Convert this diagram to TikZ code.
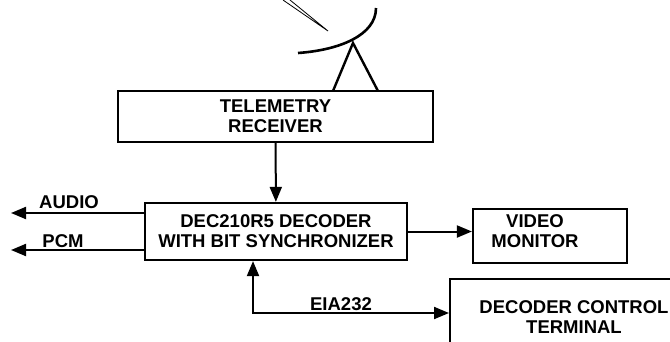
\documentclass[tikz,border=0pt]{standalone}
\usepackage{fontspec}
\setmainfont{Liberation Sans}
\usetikzlibrary{arrows.meta,positioning}

\begin{document}
\begin{tikzpicture}[
  x=1pt, y=-1pt,
  box/.style={draw, line width=2.2pt, align=center, inner sep=0pt},
  lbl/.style={font=\fontsize{18.5}{20}\selectfont\bfseries, align=center, inner sep=0pt},
  arr/.style={-{Triangle[length=15pt, width=12pt]}, line width=2pt},
  arrboth/.style={{Triangle[length=15pt, width=12pt]}-{Triangle[length=15pt, width=12pt]}, line width=2pt}
]
\clip (0,0) rectangle (670,341);

% antenna
\draw[line width=2.6pt] (298,53) .. controls (340,50) and (376,35) .. (376,8);
\draw[line width=2.4pt] (333,91) -- (353,43) -- (378,91);
\draw[line width=0.8pt] (283,0) -- (328,31) -- (290,0);

\node[box, lbl, minimum width=315pt, minimum height=51pt] (rcv) at (275.5,116.5) {TELEMETRY\\RECEIVER};
\node[box, lbl, minimum width=262pt, minimum height=57pt] (dec) at (276,231.5) {DEC210R5 DECODER\\WITH BIT SYNCHRONIZER};
\node[box, minimum width=154pt, minimum height=54pt] (vid) at (550,236) {};
\node[lbl] (vidtxt) at (535,231) {VIDEO\\MONITOR};
\node[box, anchor=north west, minimum width=300pt, minimum height=120pt] (term) at (449,278) {};
\node[lbl] (termtxt) at (574,317) {DECODER CONTROL\\TERMINAL};

\coordinate (audioend) at (11,213);
\coordinate (pcmend) at (11,250);
\coordinate (eiacorner) at (253,313);

\draw[arr] (rcv) -- (dec);
\draw[arr] (dec.west |- audioend) -- (audioend);
\draw[arr] (dec.west |- pcmend) -- (pcmend);
\draw[arr] (dec.east) -- (dec.east -| vid.west);
\draw[arrboth] (dec.south -| eiacorner) -- (eiacorner) -- (eiacorner -| term.west);

\node[lbl, anchor=base] (audiolbl) at (69,208) {AUDIO};
\node[lbl, anchor=base] (pcmlbl) at (63,247) {PCM};
\node[lbl, anchor=base] (eialbl) at (341,310) {EIA232};
\end{tikzpicture}
\end{document}
